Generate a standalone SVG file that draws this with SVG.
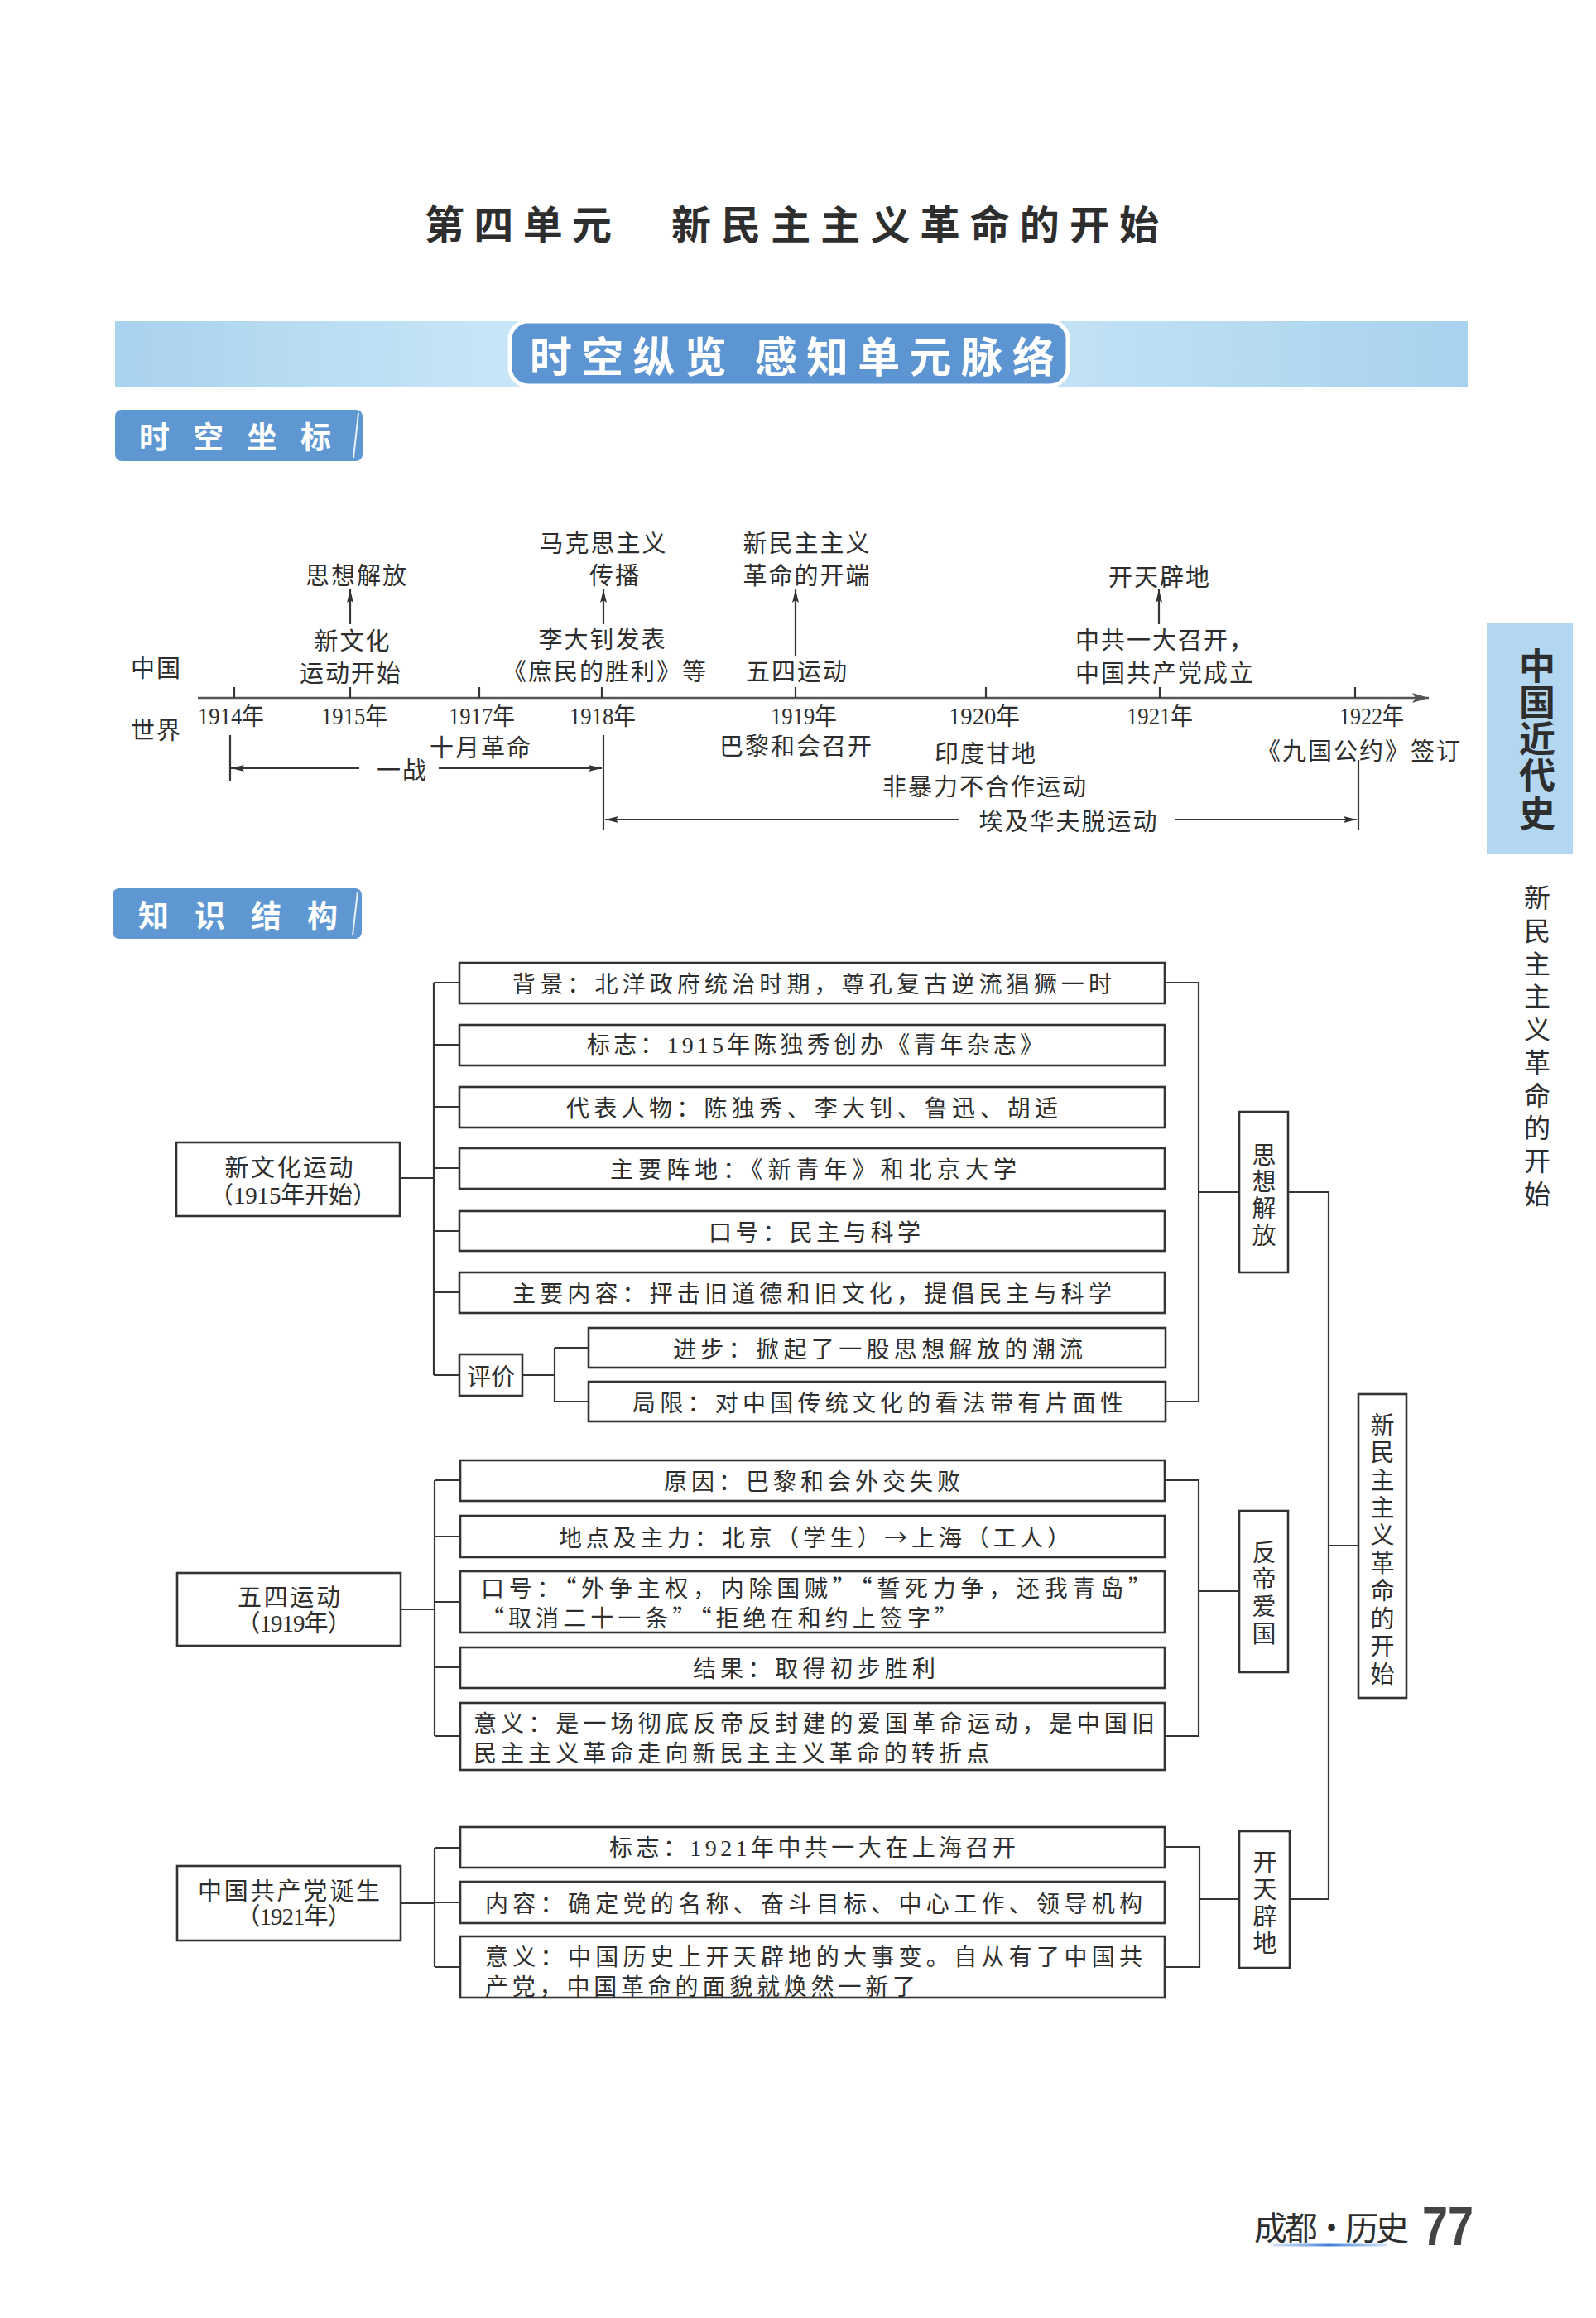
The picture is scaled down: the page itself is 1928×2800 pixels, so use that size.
<svg xmlns="http://www.w3.org/2000/svg" width="1928" height="2800" viewBox="0 0 1928 2800">
<defs>
<style>
.t{font-family:"Noto Sans CJK SC","Noto Sans CJK JP",sans-serif;fill:#2e2e2e;dominant-baseline:central}
.s{font-family:"Liberation Serif","Noto Sans CJK SC",serif;fill:#2e2e2e;dominant-baseline:central}
.tl{font-size:29px;letter-spacing:2px;text-anchor:middle}
.tls{font-size:29px;letter-spacing:2px}
.yr{font-size:30px;text-anchor:middle}
.row{font-size:28px}
.nd{font-size:29px;text-anchor:middle;letter-spacing:2px}
.vt{font-size:29px;text-anchor:middle}
.box{fill:#fff;stroke:#333;stroke-width:2.6}
.ln{stroke:#363636;stroke-width:2.2;fill:none}
.tab{fill:#5e97d1}
.wt{font-family:"Noto Sans CJK SC",sans-serif;font-weight:bold;fill:#fff;dominant-baseline:central}
</style>
<linearGradient id="band" x1="0" y1="0" x2="1" y2="0">
<stop offset="0" stop-color="#a9d2ee"/>
<stop offset="0.25" stop-color="#c4e4f6"/>
<stop offset="0.45" stop-color="#d3edf9"/>
<stop offset="0.7" stop-color="#c2e2f5"/>
<stop offset="1" stop-color="#a8d2ee"/>
</linearGradient>
<linearGradient id="uline" gradientUnits="userSpaceOnUse" x1="1538" y1="0" x2="1675" y2="0">
<stop offset="0" stop-color="#7aa8e6" stop-opacity="0.35"/>
<stop offset="0.5" stop-color="#3f7fd6"/>
<stop offset="1" stop-color="#7aa8e6" stop-opacity="0.35"/>
</linearGradient>
<marker id="ah" viewBox="0 0 16 10" refX="16" refY="5" markerWidth="16" markerHeight="10" markerUnits="userSpaceOnUse" orient="auto">
<path d="M0,1 L16,5 L0,9 L3,5 z" fill="#333"/>
</marker>
<marker id="ahb" viewBox="0 0 20 14" refX="20" refY="7" markerWidth="20" markerHeight="14" markerUnits="userSpaceOnUse" orient="auto">
<path d="M0,1 L20,7 L0,13 L4,7 z" fill="#555"/>
</marker>
</defs>

<rect x="0" y="0" width="1928" height="2800" fill="#ffffff"/>

<!-- Title -->
<g id="title">
<text class="t" x="513" y="268" font-size="48" font-weight="bold" fill="#3a3a3a" textLength="226" lengthAdjust="spacing">第四单元</text>
<text class="t" x="811" y="268" font-size="48" font-weight="bold" fill="#3a3a3a" textLength="589" lengthAdjust="spacing">新民主主义革命的开始</text>
</g>

<!-- Band -->
<g id="band-header">
<rect x="139" y="388" width="1634" height="79" fill="url(#band)"/>
<rect x="616" y="388" width="674" height="78" rx="22" fill="#5c95d1" stroke="#ffffff" stroke-width="5"/>
<text class="wt" x="640" y="428" font-size="51" textLength="634" lengthAdjust="spacing">时空纵览 感知单元脉络</text>
</g>

<!-- Tab: 时空坐标 -->
<g id="tab-shikong">
<rect x="139" y="495" width="299" height="62" rx="8" class="tab"/>
<line x1="433" y1="499" x2="427" y2="553" stroke="#e8f2fb" stroke-width="2"/>
<text class="wt" x="168" y="526" font-size="37" textLength="232" lengthAdjust="spacing">时空坐标</text>
</g>

<!-- Side tab -->
<g id="side-tab">
<rect x="1796" y="752" width="104" height="280" fill="#b4d7f1"/>
<text class="t" x="1857 1857 1857 1857 1857" y="802 846 890 934 980" font-size="44" font-weight="bold" fill="#2a2a2a" text-anchor="middle">中国近代史</text>
<text class="t" x="1857 1857 1857 1857 1857 1857 1857 1857 1857 1857" y="1082 1122 1162 1201 1241 1281 1321 1360 1400 1440" font-size="32" fill="#333" text-anchor="middle">新民主主义革命的开始</text>
</g>

<!-- Timeline connectors -->
<g id="timeline-connectors" class="ln">
<path d="M239,843 H1726" stroke-width="2.6" stroke="#555" marker-end="url(#ahb)"/>
<path d="M283,830 V843 M423,830 V843 M579,830 V843 M727,830 V843 M961,830 V843 M1191,830 V843 M1401,830 V843 M1637,830 V843"/>
<path d="M423,754 V712" marker-end="url(#ah)"/>
<path d="M729,754 V712" marker-end="url(#ah)"/>
<path d="M961,792 V712" marker-end="url(#ah)"/>
<path d="M1400,754 V712" marker-end="url(#ah)"/>
<path d="M278,888 V943"/>
<path d="M434,928 H279" marker-end="url(#ah)"/>
<path d="M530,928 H727" marker-end="url(#ah)"/>
<path d="M729,888 V1002"/>
<path d="M1159,990 H731" marker-end="url(#ah)"/>
<path d="M1420,990 H1639" marker-end="url(#ah)"/>
<path d="M1641,918 V1002"/>
</g>

<!-- Timeline labels -->
<g id="tl-china-world">
<text class="t tl" x="189" y="805">中国</text>
<text class="t tl" x="189" y="880">世界</text>
</g>
<g id="tl-1915">
<text class="t tl" x="431" y="693">思想解放</text>
<text class="t tl" x="426" y="772">新文化</text>
<text class="t tl" x="424" y="811">运动开始</text>
</g>
<g id="tl-1918">
<text class="t tl" x="729" y="654">马克思主义</text>
<text class="t tl" x="743" y="693">传播</text>
<text class="t tl" x="728" y="770">李大钊发表</text>
<text class="t tl" x="731" y="809">《庶民的胜利》等</text>
</g>
<g id="tl-1919">
<text class="t tl" x="975" y="654">新民主主义</text>
<text class="t tl" x="975" y="693">革命的开端</text>
<text class="t tl" x="963" y="809">五四运动</text>
</g>
<g id="tl-1921">
<text class="t tl" x="1401" y="695">开天辟地</text>
<text class="t tls" x="1299" y="771">中共一大召开，</text>
<text class="t tls" x="1299" y="811">中国共产党成立</text>
</g>
<g id="tl-years">
<text class="s yr" x="279" y="864" textLength="80" lengthAdjust="spacingAndGlyphs">1914年</text>
<text class="s yr" x="428" y="864" textLength="80" lengthAdjust="spacingAndGlyphs">1915年</text>
<text class="s yr" x="582" y="864" textLength="80" lengthAdjust="spacingAndGlyphs">1917年</text>
<text class="s yr" x="728" y="864" textLength="80" lengthAdjust="spacingAndGlyphs">1918年</text>
<text class="s yr" x="971" y="864" textLength="80" lengthAdjust="spacingAndGlyphs">1919年</text>
<text class="s yr" x="1189" y="864" textLength="86" lengthAdjust="spacingAndGlyphs">1920年</text>
<text class="s yr" x="1401" y="864" textLength="80" lengthAdjust="spacingAndGlyphs">1921年</text>
<text class="s yr" x="1657" y="864" textLength="78" lengthAdjust="spacingAndGlyphs">1922年</text>
</g>
<g id="tl-world">
<text class="t tl" x="581" y="901">十月革命</text>
<text class="t tl" x="962" y="899">巴黎和会召开</text>
<text class="t tl" x="1191" y="908">印度甘地</text>
<text class="t tl" x="1190" y="948">非暴力不合作运动</text>
<text class="t tl" x="1642" y="905">《九国公约》签订</text>
<text class="t tl" x="486" y="928">一战</text>
<text class="t tl" x="1291" y="990">埃及华夫脱运动</text>
</g>

<!-- Tab: 知识结构 -->
<g id="tab-zhishi">
<rect x="136" y="1073" width="301" height="61" rx="8" class="tab"/>
<line x1="432" y1="1077" x2="426" y2="1130" stroke="#e8f2fb" stroke-width="2"/>
<text class="wt" x="167" y="1104" font-size="37" textLength="241" lengthAdjust="spacing">知识结构</text>
</g>

<!-- Structure connectors -->
<g id="connectors" class="ln">
<path d="M483,1423 H524 M524,1187 V1661 M524,1187 H555 M524,1262 H555 M524,1337 H555 M524,1411 H555 M524,1487 H555 M524,1561 H555 M524,1661 H555"/>
<path d="M631,1661 H670 M670,1628 V1693 M670,1628 H711 M670,1693 H711"/>
<path d="M1407,1187 H1448 V1693 H1408 M1448,1440 H1497"/>
<path d="M1556,1440 H1605 V2294 M1605,1867 H1641 M1558,2294 H1605"/>
<path d="M484,1944 H525 M525,1788 V2097 M525,1788 H556 M525,1856 H556 M525,1935 H556 M525,2014 H556 M525,2097 H556"/>
<path d="M1407,1788 H1448 V2097 H1407 M1448,1922 H1497"/>
<path d="M484,2299 H525 M525,2232 V2376 M525,2232 H556 M525,2298 H556 M525,2376 H556"/>
<path d="M1407,2231 H1449 V2376 H1407 M1449,2294 H1497"/>
</g>

<!-- New Culture Movement -->
<g id="node-xinwenhua">
<rect class="box" x="213" y="1380" width="270" height="89"/>
<text class="t nd" x="350" y="1408" textLength="157" lengthAdjust="spacing">新文化运动</text>
<text class="s nd" x="355" y="1444" textLength="204" lengthAdjust="spacing">（1915年开始）</text>
</g>
<g id="nc-beijing">
<rect class="box" x="555" y="1163" width="852" height="49"/>
<text class="t row" x="619" y="1187" textLength="724" lengthAdjust="spacing">背景：北洋政府统治时期，尊孔复古逆流猖獗一时</text>
</g>
<g id="nc-biaozhi">
<rect class="box" x="555" y="1238" width="852" height="49"/>
<text class="s row" x="709" y="1262" textLength="551" lengthAdjust="spacing">标志：1915年陈独秀创办《青年杂志》</text>
</g>
<g id="nc-renwu">
<rect class="box" x="555" y="1313" width="852" height="49"/>
<text class="t row" x="684" y="1337" textLength="594" lengthAdjust="spacing">代表人物：陈独秀、李大钊、鲁迅、胡适</text>
</g>
<g id="nc-zhendi">
<rect class="box" x="555" y="1387" width="852" height="49"/>
<text class="t row" x="737" y="1411" textLength="491" lengthAdjust="spacing">主要阵地：《新青年》和北京大学</text>
</g>
<g id="nc-kouhao">
<rect class="box" x="555" y="1463" width="852" height="48"/>
<text class="t row" x="856" y="1487" textLength="256" lengthAdjust="spacing">口号：民主与科学</text>
</g>
<g id="nc-neirong">
<rect class="box" x="555" y="1537" width="852" height="49"/>
<text class="t row" x="619" y="1561" textLength="724" lengthAdjust="spacing">主要内容：抨击旧道德和旧文化，提倡民主与科学</text>
</g>
<g id="nc-pingjia">
<rect class="box" x="555" y="1636" width="76" height="50"/>
<text class="t vt" x="593" y="1661">评价</text>
</g>
<g id="nc-jinbu">
<rect class="box" x="711" y="1604" width="697" height="48"/>
<text class="t row" x="813" y="1628" textLength="495" lengthAdjust="spacing">进步：掀起了一股思想解放的潮流</text>
</g>
<g id="nc-juxian">
<rect class="box" x="711" y="1669" width="697" height="48"/>
<text class="t row" x="764" y="1693" textLength="593" lengthAdjust="spacing">局限：对中国传统文化的看法带有片面性</text>
</g>
<g id="node-sixiangjiefang">
<rect class="box" x="1497" y="1343" width="59" height="194"/>
<text class="t vt" x="1527 1527 1527 1527" y="1393 1425 1457 1490">思想解放</text>
</g>

<!-- May Fourth Movement -->
<g id="node-wusi">
<rect class="box" x="214" y="1900" width="270" height="88"/>
<text class="t nd" x="350" y="1927" textLength="126" lengthAdjust="spacing">五四运动</text>
<text class="s nd" x="356" y="1961" textLength="141" lengthAdjust="spacing">（1919年）</text>
</g>
<g id="ws-yuanyin">
<rect class="box" x="556" y="1764" width="851" height="49"/>
<text class="t row" x="802" y="1788" textLength="358" lengthAdjust="spacing">原因：巴黎和会外交失败</text>
</g>
<g id="ws-didian">
<rect class="box" x="556" y="1831" width="851" height="50"/>
<text class="t row" x="675" y="1856" textLength="618" lengthAdjust="spacing">地点及主力：北京（学生）→上海（工人）</text>
</g>
<g id="ws-kouhao">
<rect class="box" x="556" y="1898" width="851" height="74"/>
<text class="t row" x="581" y="1917" textLength="810" lengthAdjust="spacing">口号：“外争主权，内除国贼”“誓死力争，还我青岛”</text>
<text class="t row" x="581" y="1953" textLength="576" lengthAdjust="spacing">“取消二十一条”“拒绝在和约上签字”</text>
</g>
<g id="ws-jieguo">
<rect class="box" x="556" y="1990" width="851" height="49"/>
<text class="t row" x="837" y="2014" textLength="293" lengthAdjust="spacing">结果：取得初步胜利</text>
</g>
<g id="ws-yiyi">
<rect class="box" x="556" y="2057" width="851" height="81"/>
<text class="t row" x="572" y="2080" textLength="823" lengthAdjust="spacing">意义：是一场彻底反帝反封建的爱国革命运动，是中国旧</text>
<text class="t row" x="572" y="2116" textLength="623" lengthAdjust="spacing">民主主义革命走向新民主主义革命的转折点</text>
</g>
<g id="node-fandiaiguo">
<rect class="box" x="1497" y="1825" width="59" height="195"/>
<text class="t vt" x="1527 1527 1527 1527" y="1873 1905 1938 1971">反帝爱国</text>
</g>

<!-- CCP founding -->
<g id="node-zhonggong">
<rect class="box" x="214" y="2254" width="270" height="90"/>
<text class="t nd" x="350" y="2282" textLength="222" lengthAdjust="spacing">中国共产党诞生</text>
<text class="s nd" x="356" y="2315" textLength="141" lengthAdjust="spacing">（1921年）</text>
</g>
<g id="cc-biaozhi">
<rect class="box" x="556" y="2207" width="851" height="49"/>
<text class="s row" x="736" y="2232" textLength="491" lengthAdjust="spacing">标志：1921年中共一大在上海召开</text>
</g>
<g id="cc-neirong">
<rect class="box" x="556" y="2273" width="851" height="50"/>
<text class="t row" x="586" y="2298" textLength="794" lengthAdjust="spacing">内容：确定党的名称、奋斗目标、中心工作、领导机构</text>
</g>
<g id="cc-yiyi">
<rect class="box" x="556" y="2339" width="851" height="74"/>
<text class="t row" x="586" y="2362" textLength="794" lengthAdjust="spacing">意义：中国历史上开天辟地的大事变。自从有了中国共</text>
<text class="t row" x="586" y="2398" textLength="520" lengthAdjust="spacing">产党，中国革命的面貌就焕然一新了</text>
</g>
<g id="node-kaitianpidi">
<rect class="box" x="1497" y="2212" width="61" height="165"/>
<text class="t vt" x="1528 1528 1528 1528" y="2247 2280 2313 2345">开天辟地</text>
</g>

<!-- Root -->
<g id="node-root">
<rect class="box" x="1641" y="1684" width="58" height="367"/>
<text class="t vt" x="1670 1670 1670 1670 1670 1670 1670 1670 1670 1670" y="1719 1752 1786 1819 1852 1886 1919 1953 1986 2020">新民主主义革命的开始</text>
</g>

<!-- Footer -->
<g id="footer">
<text class="t" x="1515" y="2689" font-size="40" fill="#444" textLength="187" lengthAdjust="spacing">成都·历史</text>
<text x="1718" y="2712" font-family="Liberation Sans, sans-serif" font-weight="bold" font-size="66" fill="#444" textLength="62" lengthAdjust="spacingAndGlyphs">77</text>
<line x1="1538" y1="2712" x2="1675" y2="2712" stroke="url(#uline)" stroke-width="3"/>
</g>
</svg>
